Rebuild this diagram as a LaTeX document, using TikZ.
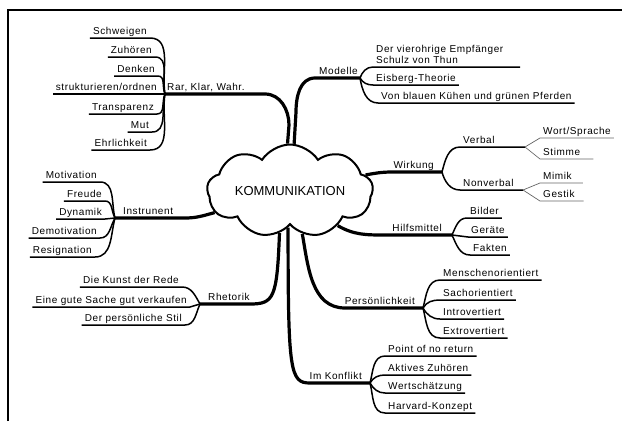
\documentclass[tikz,border=0pt]{standalone}
\usepackage{fontspec}
\newfontfamily\mapfont[LetterSpace=6]{Liberation Sans}
\newfontfamily\corefont{Liberation Sans}
\usepackage{tikz}
\usetikzlibrary{shapes.symbols,positioning,calc}
\tikzset{
    core/.style={
        cloud,
        cloud puffs=9,
        cloud puff arc=115,
        aspect=2.3,
        draw=black,
        line width=2pt,
        minimum width=166pt,
        minimum height=74pt,
        inner sep=0pt,
        font=\corefont\fontsize{13}{14}\selectfont,
    },
    topic/.style={
        inner xsep=2pt,
        inner ysep=1pt,
        text height=7.5pt,
        text depth=2pt,
        font=\mapfont\fontsize{10}{11}\selectfont,
    },
    leafL/.style={topic, anchor=south east, inner xsep=3pt},
    leafR/.style={topic, anchor=south west, inner xsep=3pt},
    trunk/.style={draw, line width=3.2pt},
    twig/.style={draw, line width=1.5pt},
    thintwig/.style={draw, line width=0.7pt, black!60},
  }

\begin{document}
\begin{tikzpicture}[x=1pt,y=-1pt]
  \useasboundingbox (0,0) rectangle (622,421);
  \draw[line width=2pt] (8,421) -- (8,10) -- (622,10);

  \node [core] (core) at (290,191) {KOMMUNIKATION};

  % hubs
  \coordinate (rkwhub) at (165,94);
  \coordinate (modhub) at (360,78);
  \coordinate (wirhub) at (442,172);
  \coordinate (verbhub) at (525,147);
  \coordinate (nonvhub) at (523,190);
  \coordinate (hilhub) at (452,235);
  \coordinate (perhub) at (423,308);
  \coordinate (konhub) at (370,383);
  \coordinate (inshub) at (115,218);
  \coordinate (rhehub) at (200,304);

  % topics
  \node [topic,anchor=south west] (rkw) at (rkwhub) {Rar, Klar, Wahr.};
  \node [topic,anchor=south east] (mod) at (modhub) {Modelle};
  \node [topic,anchor=south east] (wir) at ($(wirhub)+(-6,0)$) {Wirkung};
  \node [topic,anchor=south east] (hil) at ($(hilhub)+(-8,0)$) {Hilfsmittel};
  \node [topic,anchor=south east] (per) at ($(perhub)+(-6,0)$) {Persönlichkeit};
  \node [topic,anchor=south east] (kon) at ($(konhub)+(-6,0)$) {Im Konflikt};
  \node [topic,anchor=south west] (ins) at ($(inshub)+(6,0)$) {Instrunent};
  \node [topic,anchor=south west] (rhe) at ($(rhehub)+(6,0)$) {Rhetorik};

  \draw[trunk] (core.93) -- (289,125) to[out=90,in=0] (265,94) -- (rkwhub);
  \draw[trunk] (core.85) -- (296,112) to[out=90,in=180] (315,78) -- (modhub);
  \draw[trunk] (core.12) to[out=10,in=180] (392,172) -- (wirhub);
  \draw[trunk] (core.-36) to[out=-30,in=180] (385,235) -- (hilhub);
  \draw[trunk] (core.-74) to[out=-80,in=180] (345,308) -- (perhub);
  \draw[trunk] (core.-93) .. controls (288,372) and (290,383) .. (310,383) -- (konhub);
  \draw[trunk] (core.-104) .. controls (277,298) and (274,304) .. (250,304) -- (rhehub);
  \draw[trunk] (core.196) to[out=195,in=0] (185,218) -- (inshub);

  % Rar, Klar, Wahr.
  \node [leafL] (schw) at (150,38) {Schweigen};
  \node [leafL] (zuh) at (155,57) {Zuhören};
  \node [leafL] (denk) at (158,76) {Denken};
  \node [leafL] (strk) at (160,94) {strukturieren/ordnen};
  \node [leafL] (trans) at (157,114) {Transparenz};
  \node [leafL] (mut) at (152,132) {Mut};
  \node [leafL] (ehrl) at (150,150) {Ehrlichkeit};
  \draw[twig] (rkwhub) to[out=100,in=0] (schw.south east) -- (schw.south west);
  \draw[twig] (rkwhub) to[out=105,in=0] (zuh.south east) -- (zuh.south west);
  \draw[twig] (rkwhub) to[out=115,in=0] (denk.south east) -- (denk.south west);
  \draw[twig] (rkwhub) -- (strk.south east) -- (strk.south west);
  \draw[twig] (rkwhub) to[out=-115,in=0] (trans.south east) -- (trans.south west);
  \draw[twig] (rkwhub) to[out=-105,in=0] (mut.south east) -- (mut.south west);
  \draw[twig] (rkwhub) to[out=-100,in=0] (ehrl.south east) -- (ehrl.south west);

  % Modelle
  \node [leafR,align=left] (vier) at (373,67) {Der vierohrige Empfänger\\Schulz von Thun};
  \node [leafR] (eisb) at (373,85) {Eisberg-Theorie};
  \node [leafR] (blau) at (378,103) {Von blauen Kühen und grünen Pferden};
  \draw[twig] (modhub) to[out=70,in=180] (vier.south west) -- ($(vier.south west)+(147,0)$);
  \draw[twig] (modhub) to[out=-60,in=180] (eisb.south west) -- (eisb.south east);
  \draw[twig] (modhub) to[out=-80,in=180] (blau.south west) -- (blau.south east);

  % Wirkung
  \node [leafR] (verb) at (460,147) {Verbal};
  \node [leafR] (nonv) at (460,190) {Nonverbal};
  \draw[twig] (wirhub) to[out=75,in=180] (verb.south west) -- (verbhub);
  \draw[twig] (wirhub) to[out=-75,in=180] (nonv.south west) -- (nonvhub);
  \node [leafR] (wort) at (540,138) {Wort/Sprache};
  \node [leafR] (stim) at (540,159) {Stimme};
  \node [leafR] (mimi) at (540,183) {Mimik};
  \node [leafR] (gest) at (540,201) {Gestik};
  \draw[thintwig] (verbhub) -- (wort.south west) -- (wort.south east);
  \draw[thintwig] (verbhub) -- (stim.south west) -- ($(stim.south east)+(10,0)$);
  \draw[thintwig] (nonvhub) -- (mimi.south west) -- ($(mimi.south east)+(8,0)$);
  \draw[thintwig] (nonvhub) -- (gest.south west) -- ($(gest.south east)+(6,0)$);

  % Hilfsmittel
  \node [leafR] (bild) at (467,218) {Bilder};
  \node [leafR] (gera) at (468,237) {Geräte};
  \node [leafR] (fakt) at (470,255) {Fakten};
  \draw[twig] (hilhub) to[out=65,in=180] (bild.south west) -- (bild.south east);
  \draw[twig] (hilhub) -- (gera.south west) -- (gera.south east);
  \draw[twig] (hilhub) to[out=-65,in=180] (fakt.south west) -- (fakt.south east);

  % Persoenlichkeit
  \node [leafR] (mens) at (440,280) {Menschenorientiert};
  \node [leafR] (sach) at (440,300) {Sachorientiert};
  \node [leafR] (intr) at (440,319) {Introvertiert};
  \node [leafR] (extr) at (440,338) {Extrovertiert};
  \draw[twig] (perhub) to[out=75,in=180] (mens.south west) -- (mens.south east);
  \draw[twig] (perhub) to[out=60,in=180] (sach.south west) -- (sach.south east);
  \draw[twig] (perhub) to[out=-60,in=180] (intr.south west) -- (intr.south east);
  \draw[twig] (perhub) to[out=-75,in=180] (extr.south west) -- (extr.south east);

  % Im Konflikt
  \node [leafR] (poin) at (385,356) {Point of no return};
  \node [leafR] (akti) at (385,375) {Aktives Zuhören};
  \node [leafR] (wert) at (385,393) {Wertschätzung};
  \node [leafR] (harv) at (385,413) {Harvard-Konzept};
  \draw[twig] (konhub) to[out=75,in=180] (poin.south west) -- (poin.south east);
  \draw[twig] (konhub) to[out=60,in=180] (akti.south west) -- (akti.south east);
  \draw[twig] (konhub) to[out=-60,in=180] (wert.south west) -- (wert.south east);
  \draw[twig] (konhub) to[out=-75,in=180] (harv.south west) -- (harv.south east);

  % Instrunent
  \node [leafL] (moti) at (100,182) {Motivation};
  \node [leafL] (freu) at (105,201) {Freude};
  \node [leafL] (dyna) at (105,219) {Dynamik};
  \node [leafL] (demo) at (100,238) {Demotivation};
  \node [leafL] (resi) at (95,257) {Resignation};
  \draw[twig] (inshub) to[out=105,in=0] (moti.south east) -- (moti.south west);
  \draw[twig] (inshub) to[out=120,in=0] (freu.south east) -- (freu.south west);
  \draw[twig] (inshub) -- (dyna.south east) -- (dyna.south west);
  \draw[twig] (inshub) to[out=-120,in=0] (demo.south east) -- (demo.south west);
  \draw[twig] (inshub) to[out=-105,in=0] (resi.south east) -- (resi.south west);

  % Rhetorik
  \node [leafL] (kuns) at (182,287) {Die Kunst der Rede};
  \node [leafL] (sach2) at (190,307) {Eine gute Sache gut verkaufen};
  \node [leafL] (stil) at (185,325) {Der persönliche Stil};
  \draw[twig] (rhehub) to[out=120,in=0] (kuns.south east) -- (kuns.south west);
  \draw[twig] (rhehub) -- (sach2.south east) -- (sach2.south west);
  \draw[twig] (rhehub) to[out=-115,in=0] (stil.south east) -- (stil.south west);

\end{tikzpicture}
\end{document}
